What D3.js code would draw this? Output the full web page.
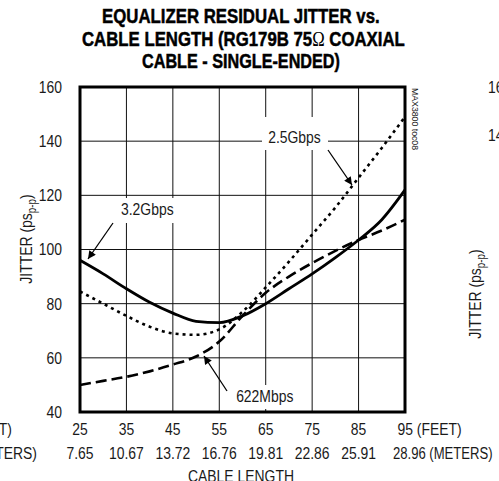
<!DOCTYPE html>
<html>
<head>
<meta charset="utf-8">
<script src="https://cdn.jsdelivr.net/npm/d3@7"></script>
<style>
  body { margin: 0; background: #fff; }
  svg { display: block; }
  text { font-family: "Liberation Sans Narrow", "Arial Narrow", "Liberation Sans", sans-serif; fill: #1a1a1a; }
  .title { font-weight: bold; fill: #000; stroke: #000; stroke-width: 0.5px; }
</style>
</head>
<body>
<svg id="chart" width="499" height="481"></svg>
<script>
// Data
const feet = [25, 30, 35, 40, 45, 50, 55, 60, 65, 70, 75, 80, 85, 90, 95];
const jitter32G = [96, 91, 85.5, 80.5, 76.5, 73.5, 73, 75.5, 80, 85.5, 91, 97, 103.5, 111, 122];
const jitter25G = [84.5, 80, 75.5, 71.5, 69, 68.5, 70.5, 77, 86, 95.5, 105.5, 115.5, 126.5, 137.5, 149];
const jitter622M = [50, 51.5, 53, 55, 57.5, 60.5, 66, 75.5, 84, 90, 95, 99.5, 103.5, 107, 111];
const feetTicks = [25, 35, 45, 55, 65, 75, 85, 95];
const meterTicks = ["7.65", "10.67", "13.72", "16.76", "19.81", "22.86", "25.91", "28.96"];
const jitterTicks = [40, 60, 80, 100, 120, 140, 160];
const titleLines = ["EQUALIZER RESIDUAL JITTER vs.", "CABLE LENGTH (RG179B 75\u03A9 COAXIAL", "CABLE - SINGLE-ENDED)"];

const svg = d3.select("#chart");

const x = d3.scaleLinear().domain([25, 95]).range([80, 405]);
const y = d3.scaleLinear().domain([40, 160]).range([412, 87]);

const K = 0.82; // horizontal squeeze, the original uses a condensed face

// squeeze texts horizontally about their anchor point
function condense(sel, k) {
    sel.each(function(d, i) {
        const t = d3.select(this);
        const kk = typeof k === "function" ? k(d, i) : k;
        const px = +t.attr("x") || 0, py = +t.attr("y") || 0;
        const prev = t.attr("transform");
        if (prev) t.attr("transform", prev + ` scale(${kk},1)`);
        else t.attr("transform", `translate(${px},${py}) scale(${kk},1) translate(${-px},${-py})`);
    });
}

// arrow head
svg.append("defs").append("marker")
    .attr("id", "arrow")
    .attr("viewBox", "0 0 10 10")
    .attr("refX", 10).attr("refY", 5)
    .attr("markerWidth", 10).attr("markerHeight", 8)
    .attr("markerUnits", "userSpaceOnUse")
    .attr("orient", "auto")
  .append("path")
    .attr("d", "M0,0 L10,5 L0,10 Z")
    .attr("fill", "#000");

// Title, each line fitted to the width it has in the original
const titleY = [23, 46, 68], titleW = [278, 323, 198], titleX = [241, 243.5, 241];
titleLines.forEach((t, i) => {
    const tx = svg.append("text")
        .attr("class", "title")
        .attr("x", 0).attr("y", 0)
        .attr("font-size", "21px");
    if (t.includes("\u03A9")) {
        const parts = t.split("\u03A9");
        tx.append("tspan").text(parts[0]);
        tx.append("tspan").style("font-family", "'Liberation Serif', serif").style("font-weight", "normal").style("stroke-width", "0px").text("\u03A9");
        tx.append("tspan").text(parts[1]);
    } else {
        tx.text(t);
    }
    const w = tx.node().getBBox().width;
    tx.attr("transform", `translate(${titleX[i] - titleW[i] / 2},${titleY[i]}) scale(${titleW[i] / w},1)`);
});

// Grid
const grid = svg.append("g").attr("class", "grid");
grid.selectAll("line.v")
    .data(feetTicks.slice(1, -1))
    .join("line")
    .attr("class", "v")
    .attr("x1", d => x(d)).attr("x2", d => x(d))
    .attr("y1", y(40)).attr("y2", y(160))
    .attr("stroke", "#111").attr("stroke-width", 1);
grid.selectAll("line.h")
    .data(jitterTicks.slice(1, -1))
    .join("line")
    .attr("class", "h")
    .attr("x1", x(25)).attr("x2", x(95))
    .attr("y1", d => y(d)).attr("y2", d => y(d))
    .attr("stroke", "#111").attr("stroke-width", 1);

// Label knockouts
const labels = [
    { text: "3.2Gbps", f: 39.5, v: 112.7, box: [117, 198, 62, 25], from: [113, 223], to: [88, 259] },
    { text: "2.5Gbps", f: 71.2, v: 139.5, box: [262, 117, 66, 33], from: [328, 150], to: [352, 185] },
    { text: "622Mbps", f: 64.8, v: 43.7, box: [230, 385, 70, 24], from: [227, 391], to: [204, 356] }
];
svg.append("g").selectAll("rect")
    .data(labels)
    .join("rect")
    .attr("x", d => d.box[0]).attr("y", d => d.box[1])
    .attr("width", d => d.box[2]).attr("height", d => d.box[3])
    .attr("fill", "#fff");

// Curves
const line = d3.line()
    .x(d => x(d[0]))
    .y(d => y(d[1]))
    .curve(d3.curveMonotoneX);

const series = [
    { values: jitter622M, dash: "11,5", width: 2.6 },
    { values: jitter25G, dash: "3,4", width: 2.6 },
    { values: jitter32G, dash: null, width: 2.8 }
];
svg.append("g").selectAll("path")
    .data(series)
    .join("path")
    .attr("d", d => line(feet.map((f, i) => [f, d.values[i]])))
    .attr("fill", "none")
    .attr("stroke", "#000")
    .attr("stroke-width", d => d.width)
    .attr("stroke-dasharray", d => d.dash);

// Frame
svg.append("rect")
    .attr("x", x(25)).attr("y", y(160))
    .attr("width", x(95) - x(25)).attr("height", y(40) - y(160))
    .attr("fill", "none")
    .attr("stroke", "#000")
    .attr("stroke-width", 3);

// Labels and arrows
const lab = svg.append("g").attr("class", "labels");
lab.selectAll("text")
    .data(labels)
    .join("text")
    .attr("x", d => x(d.f))
    .attr("y", d => y(d.v))
    .attr("text-anchor", "middle")
    .attr("font-size", "17px")
    .text(d => d.text)
    .call(condense, K);
lab.selectAll("line")
    .data(labels)
    .join("line")
    .attr("x1", d => d.from[0]).attr("y1", d => d.from[1])
    .attr("x2", d => d.to[0]).attr("y2", d => d.to[1])
    .attr("stroke", "#000")
    .attr("stroke-width", 1.3)
    .attr("marker-end", "url(#arrow)");

// Y tick labels
svg.append("g").selectAll("text")
    .data(jitterTicks)
    .join("text")
    .attr("x", 62)
    .attr("y", d => y(d) + 6)
    .attr("text-anchor", "end")
    .attr("font-size", "17px")
    .text(d => d)
    .call(condense, K);

// X tick labels: feet and meters
const last = feetTicks.length - 1;
const xl = svg.append("g");
xl.selectAll("text.ft")
    .data(feetTicks)
    .join("text")
    .attr("class", "ft")
    .attr("x", (d, i) => i === last ? x(d) - 7.5 : x(d))
    .attr("y", 435)
    .attr("text-anchor", (d, i) => i === last ? "start" : "middle")
    .attr("font-size", "17px")
    .text((d, i) => i === last ? d + " (FEET)" : d)
    .call(condense, K);
xl.selectAll("text.m")
    .data(meterTicks)
    .join("text")
    .attr("class", "m")
    .attr("x", (d, i) => i === last ? x(feetTicks[i]) - 12 : x(feetTicks[i]))
    .attr("y", 459)
    .attr("text-anchor", (d, i) => i === last ? "start" : "middle")
    .attr("font-size", "17px")
    .text((d, i) => i === last ? d + " (METERS)" : d)
    .call(condense, (d, i) => i === last ? 0.77 : K);
xl.append("text")
    .attr("x", 241).attr("y", 482)
    .attr("text-anchor", "middle")
    .attr("font-size", "17px")
    .text("CABLE LENGTH")
    .call(condense, K);

// Y axis title
function yTitle(tx, ty) {
    const t = svg.append("text")
        .attr("transform", `translate(${tx},${ty}) rotate(-90)`)
        .attr("text-anchor", "middle")
        .attr("font-size", "17px");
    t.append("tspan").text("JITTER (ps");
    t.append("tspan").attr("font-size", "12px").attr("dy", 4).text("p-p");
    t.append("tspan").attr("dy", -4).text(")");
    t.call(condense, K);
}
yTitle(32, 239);

// Figure code
svg.append("text")
    .attr("transform", "translate(412,88) rotate(90)")
    .attr("font-size", "9.5px")
    .text("MAX3800 toc08")
    .call(condense, 0.92);

// Neighbouring charts, clipped at the edges
svg.append("text").attr("x", 12).attr("y", 435).attr("text-anchor", "end").attr("font-size", "17px").text("(FEET)").call(condense, K);
svg.append("text").attr("x", 37).attr("y", 459).attr("text-anchor", "end").attr("font-size", "17px").text("(METERS)").call(condense, K);
svg.append("text").attr("x", 488).attr("y", 93).attr("font-size", "17px").text("160").call(condense, K);
svg.append("text").attr("x", 488).attr("y", 141).attr("font-size", "17px").text("140").call(condense, K);
yTitle(481, 294);
</script>
</body>
</html>
